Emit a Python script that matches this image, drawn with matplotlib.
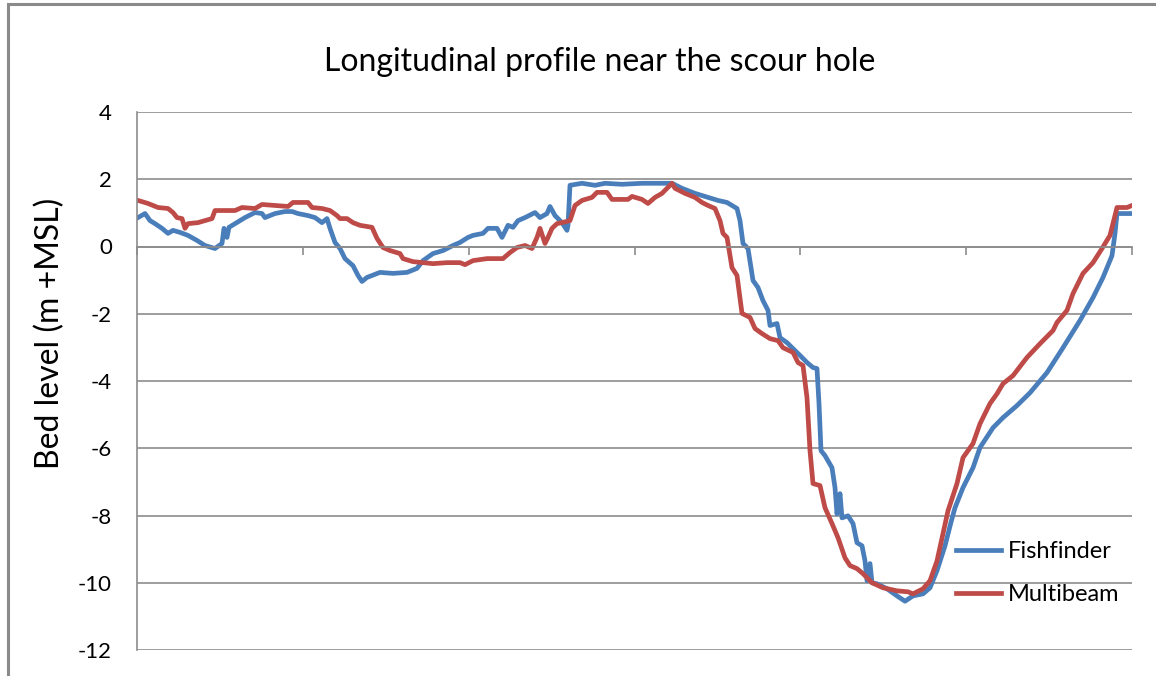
import numpy as np
import matplotlib
matplotlib.use("Agg")
import matplotlib.pyplot as plt
from matplotlib.patches import Rectangle

plt.rcParams['font.family'] = ['Lato', 'DejaVu Sans']
plt.rcParams['axes.unicode_minus'] = False

# distance along the profile (chart units) and bed level (m +MSL)
fish_x = [1, 8, 13, 18, 25, 31, 36, 43, 51, 60, 68, 78, 85, 87, 90, 92, 98, 108, 118, 125,
          128, 138, 148, 155, 161, 171, 178, 185, 190, 193, 198, 203, 208, 216, 221, 225, 230, 243, 256, 270,
          280, 286, 296, 306, 316, 323, 331, 336, 346, 351, 360, 365, 371, 376, 381, 388, 398, 403, 410, 413,
          418, 425, 430, 431, 433, 445, 458, 468, 485, 505, 518, 535, 545, 558, 571, 581, 590, 600, 603, 606,
          611, 616, 621, 626, 631, 633, 640, 643, 650, 663, 670, 676, 680, 682, 684, 688, 695, 698, 700, 703,
          705, 711, 716, 720, 725, 728, 730, 733, 735, 740, 750, 760, 768, 776, 786, 793, 800, 808, 814, 818,
          826, 836, 843, 856, 866, 880, 893, 910, 926, 943, 956, 966, 975, 978, 980, 995]
fish_y = [0.86, 0.98, 0.77, 0.68, 0.54, 0.39, 0.48, 0.42, 0.33, 0.18, 0.03, -0.06, 0.09, 0.54, 0.27, 0.57, 0.68, 0.86, 1.01, 0.98,
          0.86, 0.98, 1.04, 1.04, 0.98, 0.92, 0.86, 0.71, 0.83, 0.54, 0.12, -0.06, -0.36, -0.57, -0.86, -1.04, -0.92, -0.77, -0.80, -0.77,
          -0.65, -0.42, -0.21, -0.12, 0.03, 0.12, 0.27, 0.33, 0.39, 0.54, 0.54, 0.27, 0.63, 0.57, 0.77, 0.86, 1.01, 0.86, 0.98, 1.19,
          0.92, 0.71, 0.48, 0.63, 1.82, 1.88, 1.82, 1.88, 1.85, 1.88, 1.88, 1.88, 1.73, 1.58, 1.46, 1.37, 1.31, 1.13, 0.77, 0.09,
          -0.06, -1.01, -1.22, -1.61, -1.90, -2.35, -2.29, -2.71, -2.86, -3.24, -3.45, -3.60, -3.63, -4.67, -6.07, -6.22, -6.58, -7.17, -7.95, -7.35,
          -8.07, -8.01, -8.24, -8.81, -8.90, -9.35, -9.94, -9.43, -10.0, -10.03, -10.18, -10.39, -10.55, -10.39, -10.33, -10.15, -9.64, -8.90, -8.20, -7.77,
          -7.17, -6.58, -5.98, -5.39, -5.09, -4.73, -4.35, -3.75, -3.01, -2.20, -1.52, -0.92, -0.27, 0.39, 0.98, 0.98]

multi_x = [1, 11, 21, 31, 36, 40, 45, 48, 51, 61, 75, 78, 98, 105, 118, 125, 138, 151, 156, 171,
           175, 185, 193, 200, 203, 210, 216, 223, 235, 240, 246, 253, 263, 266, 276, 286, 296, 310, 323, 328,
           336, 350, 366, 373, 380, 388, 395, 400, 403, 408, 411, 415, 420, 425, 433, 438, 445, 455, 460, 470,
           475, 491, 495, 505, 511, 518, 525, 531, 535, 538, 548, 558, 565, 571, 578, 583, 586, 590, 595, 600,
           605, 613, 618, 625, 633, 641, 646, 656, 661, 666, 670, 673, 676, 683, 688, 695, 701, 708, 713, 720,
           726, 735, 746, 760, 771, 776, 786, 793, 800, 806, 811, 820, 826, 836, 843, 853, 860, 866, 876, 890,
           903, 916, 920, 930, 936, 946, 956, 965, 973, 980, 990, 995]
multi_y = [1.37, 1.28, 1.16, 1.13, 1.01, 0.86, 0.83, 0.54, 0.68, 0.71, 0.83, 1.07, 1.07, 1.16, 1.13, 1.25, 1.22, 1.19, 1.31, 1.31,
           1.16, 1.13, 1.07, 0.92, 0.83, 0.83, 0.71, 0.63, 0.57, 0.24, -0.03, -0.12, -0.21, -0.36, -0.45, -0.48, -0.51, -0.48, -0.48, -0.54,
           -0.42, -0.36, -0.36, -0.18, -0.03, 0.03, -0.06, 0.27, 0.54, 0.09, 0.27, 0.54, 0.68, 0.71, 0.77, 1.22, 1.37, 1.46, 1.61, 1.61,
           1.40, 1.40, 1.49, 1.40, 1.28, 1.46, 1.58, 1.76, 1.88, 1.73, 1.58, 1.46, 1.31, 1.22, 1.13, 0.77, 0.39, 0.27, -0.63, -0.86,
           -1.99, -2.11, -2.44, -2.59, -2.74, -2.80, -3.01, -3.15, -3.45, -3.54, -4.50, -6.07, -7.05, -7.11, -7.77, -8.24, -8.66, -9.26, -9.49, -9.58,
           -9.73, -10.0, -10.15, -10.24, -10.27, -10.33, -10.18, -9.94, -9.35, -8.54, -7.86, -7.05, -6.28, -5.86, -5.27, -4.67, -4.38, -4.08, -3.84, -3.30,
           -2.89, -2.50, -2.26, -1.90, -1.40, -0.80, -0.48, -0.06, 0.33, 1.16, 1.16, 1.22]

W, H = 1156, 676
fig = plt.figure(figsize=(W / 100, H / 100), dpi=100)
ax = fig.add_axes([137 / W, 1 - 650 / H, (1132 - 137) / W, (650 - 112) / H])

# outer chart border (right and bottom edges run off the picture)
fig.patches.append(Rectangle((8 / W, -0.1), 1.2, 1.1 - 4 / H, transform=fig.transFigure,
                             fill=False, edgecolor='#8a8a8a', linewidth=2.2))

ax.plot(fish_x, fish_y, color='#4a7ebb', lw=3.4, label='Fishfinder', solid_joinstyle='round')
ax.plot(multi_x, multi_y, color='#be4b48', lw=3.4, label='Multibeam', solid_joinstyle='round')

ax.set_xlim(0, 995)
ax.set_ylim(-12, 4)
ax.set_yticks(np.arange(-12, 5, 2))
ax.set_xticks(np.linspace(0, 995, 7))
ax.set_xticklabels([])
ax.yaxis.grid(True, color='#8c8c8c', lw=1.2)
ax.set_axisbelow(True)

for s in ['top', 'right']:
    ax.spines[s].set_visible(False)
ax.spines['left'].set_color('#8c8c8c')
ax.spines['left'].set_linewidth(1.2)
ax.spines['bottom'].set_position(('data', 0))
ax.spines['bottom'].set_color('#8c8c8c')
ax.spines['bottom'].set_linewidth(1.2)
ax.tick_params(axis='x', direction='out', length=6, width=1.2, color='#8c8c8c')
ax.tick_params(axis='y', length=0, pad=18, labelsize=16)

fig.text(50 / W, 1 - 333 / H, 'Bed level (m +MSL)', rotation=90,
         ha='center', va='center', fontsize=23)
fig.text(600 / W, 1 - 62 / H, 'Longitudinal profile near the scour hole',
         ha='center', va='center', fontsize=23)

ax.legend(loc='upper left', bbox_to_anchor=(944 / W, 1 - 529 / H), bbox_transform=fig.transFigure,
          frameon=False, fontsize=17, borderpad=0, handlelength=1.9, handletextpad=0.3,
          labelspacing=0.95)

fig.savefig('out.png', dpi=100)
